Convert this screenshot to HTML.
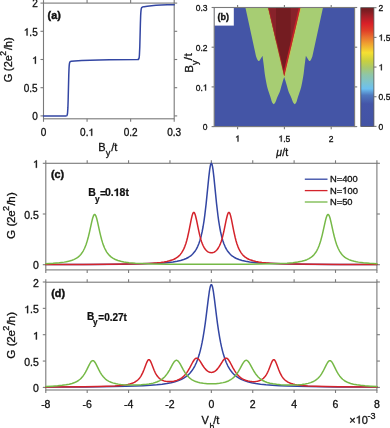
<!DOCTYPE html>
<html><head><meta charset="utf-8"><style>
html,body{margin:0;padding:0;background:#fff;}
body{width:390px;height:428px;overflow:hidden;}
text{stroke:#111;stroke-width:0.3px;} text[font-weight=bold]{stroke-width:0.22px;}
svg{display:block;will-change:transform;font-family:"Liberation Sans", sans-serif;}
</style></head><body>
<svg width="390" height="428" viewBox="0 0 390 428">
<rect width="390" height="428" fill="#fff"/>
<rect x="43.5" y="3.1" width="130.7" height="115.7" fill="none" stroke="#7a7a7a" stroke-width="1.1"/>
<line x1="43.5" y1="118.8" x2="43.5" y2="121.8" stroke="#7a7a7a" stroke-width="1.1"/>
<line x1="43.5" y1="3.1" x2="43.5" y2="0.1" stroke="#7a7a7a" stroke-width="1.1"/>
<line x1="87.07" y1="118.8" x2="87.07" y2="121.8" stroke="#7a7a7a" stroke-width="1.1"/>
<line x1="87.07" y1="3.1" x2="87.07" y2="0.1" stroke="#7a7a7a" stroke-width="1.1"/>
<line x1="130.63" y1="118.8" x2="130.63" y2="121.8" stroke="#7a7a7a" stroke-width="1.1"/>
<line x1="130.63" y1="3.1" x2="130.63" y2="0.1" stroke="#7a7a7a" stroke-width="1.1"/>
<line x1="174.2" y1="118.8" x2="174.2" y2="121.8" stroke="#7a7a7a" stroke-width="1.1"/>
<line x1="174.2" y1="3.1" x2="174.2" y2="0.1" stroke="#7a7a7a" stroke-width="1.1"/>
<line x1="43.5" y1="115.9" x2="40.5" y2="115.9" stroke="#7a7a7a" stroke-width="1.1"/>
<line x1="174.2" y1="115.9" x2="177.2" y2="115.9" stroke="#7a7a7a" stroke-width="1.1"/>
<line x1="43.5" y1="87.7" x2="40.5" y2="87.7" stroke="#7a7a7a" stroke-width="1.1"/>
<line x1="174.2" y1="87.7" x2="177.2" y2="87.7" stroke="#7a7a7a" stroke-width="1.1"/>
<line x1="43.5" y1="59.5" x2="40.5" y2="59.5" stroke="#7a7a7a" stroke-width="1.1"/>
<line x1="174.2" y1="59.5" x2="177.2" y2="59.5" stroke="#7a7a7a" stroke-width="1.1"/>
<line x1="43.5" y1="31.3" x2="40.5" y2="31.3" stroke="#7a7a7a" stroke-width="1.1"/>
<line x1="174.2" y1="31.3" x2="177.2" y2="31.3" stroke="#7a7a7a" stroke-width="1.1"/>
<line x1="43.5" y1="3.1" x2="40.5" y2="3.1" stroke="#7a7a7a" stroke-width="1.1"/>
<line x1="174.2" y1="3.1" x2="177.2" y2="3.1" stroke="#7a7a7a" stroke-width="1.1"/>
<text x="37.7" y="120.1" font-size="10" text-anchor="end" font-weight="normal" font-style="normal" fill="#111111">0</text>
<text x="37.7" y="91.9" font-size="10" text-anchor="end" font-weight="normal" font-style="normal" fill="#111111">0.5</text>
<path d="M0.375 0L0.375 0.716L0.300 0.716C0.280 0.650 0.200 0.590 0.105 0.560L0.105 0.480C0.190 0.505 0.245 0.540 0.275 0.575L0.275 0Z" transform="translate(32.14 63.7) scale(10 -10)" fill="#111111" stroke="#111111" stroke-width="0.0300"/>
<path d="M0.375 0L0.375 0.716L0.300 0.716C0.280 0.650 0.200 0.590 0.105 0.560L0.105 0.480C0.190 0.505 0.245 0.540 0.275 0.575L0.275 0Z" transform="translate(23.8 35.5) scale(10 -10)" fill="#111111" stroke="#111111" stroke-width="0.0300"/>
<text x="29.36" y="35.5" font-size="10" font-weight="normal" fill="#111111">.</text>
<text x="32.14" y="35.5" font-size="10" font-weight="normal" fill="#111111">5</text>
<text x="37.7" y="7.3" font-size="10" text-anchor="end" font-weight="normal" font-style="normal" fill="#111111">2</text>
<text x="43.5" y="135.8" font-size="10" text-anchor="middle" font-weight="normal" font-style="normal" fill="#111111">0</text>
<text x="80.12" y="135.8" font-size="10" font-weight="normal" fill="#111111">0</text>
<text x="85.68" y="135.8" font-size="10" font-weight="normal" fill="#111111">.</text>
<path d="M0.375 0L0.375 0.716L0.300 0.716C0.280 0.650 0.200 0.590 0.105 0.560L0.105 0.480C0.190 0.505 0.245 0.540 0.275 0.575L0.275 0Z" transform="translate(88.46 135.8) scale(10 -10)" fill="#111111" stroke="#111111" stroke-width="0.0300"/>
<text x="130.63" y="135.8" font-size="10" text-anchor="middle" font-weight="normal" font-style="normal" fill="#111111">0.2</text>
<text x="174.2" y="135.8" font-size="10" text-anchor="middle" font-weight="normal" font-style="normal" fill="#111111">0.3</text>
<path d="M43.50 115.90 L65.72 115.89 L66.24 115.86 L66.59 115.77 L66.85 115.58 L67.03 115.34 L67.29 114.61 L67.55 112.96 L67.90 107.66 L68.16 99.84 L68.77 75.00 L69.03 68.29 L69.20 65.62 L69.47 63.39 L69.73 62.35 L69.90 61.98 L70.16 61.68 L70.60 61.46 L71.30 61.31 L74.61 60.99 L81.75 60.57 L90.20 60.23 L99.18 59.98 L109.55 59.80 L137.26 59.58 L137.95 59.54 L138.39 59.41 L138.74 59.04 L139.00 58.34 L139.26 56.76 L139.43 54.80 L139.78 47.13 L140.39 23.50 L140.65 15.85 L140.83 12.62 L141.09 9.82 L141.35 8.46 L141.70 7.65 L142.05 7.30 L142.48 7.08 L144.14 6.64 L147.28 6.15 L151.55 5.69 L156.08 5.34 L161.30 5.07 L167.23 4.86 L174.20 4.72" fill="none" stroke="#3346a3" stroke-width="1.5" stroke-linejoin="round" stroke-linecap="round"/>
<text x="47.6" y="18.8" font-size="10.8" text-anchor="start" font-weight="bold" font-style="normal" fill="#111111" style="stroke-width:0.4px">(a)</text>
<text x="98.3" y="151" font-size="11" text-anchor="start" font-weight="normal" font-style="normal" fill="#111111">B</text>
<text x="105.7" y="156.4" font-size="9.4" text-anchor="start" font-weight="normal" font-style="normal" fill="#111111">y</text>
<text x="111.3" y="150.8" font-size="11" text-anchor="start" font-weight="normal" font-style="normal" fill="#111111">/t</text>
<text transform="translate(11.6 82.14) rotate(-90)" font-size="11" fill="#111111">G</text>
<text transform="translate(11.6 71.29) rotate(-90)" font-size="11" fill="#111111">(</text>
<text transform="translate(11.6 67.26) rotate(-90)" font-size="11" fill="#111111">2</text>
<text transform="translate(11.6 61.35) rotate(-90)" font-size="11" fill="#111111">e</text>
<text transform="translate(6.4 55.74) rotate(-90)" font-size="8.6" fill="#111111">2</text>
<text transform="translate(11.6 49.98) rotate(-90)" font-size="11" fill="#111111">/</text>
<text transform="translate(11.6 47.33) rotate(-90)" font-size="11" fill="#111111">h</text>
<text transform="translate(11.6 40.97) rotate(-90)" font-size="11" fill="#111111">)</text>
<rect x="214.2" y="7.5" width="140.4" height="119.1" fill="#4455a6"/>
<path d="M245.4 7.5 L256.0 56.3 C256.22 56.85 256.88 58.80 257.30 59.60 C257.72 60.40 258.08 61.00 258.50 61.10 C258.92 61.20 259.33 60.75 259.80 60.20 C260.27 59.65 260.85 58.55 261.30 57.80 C261.75 57.05 262.30 56.05 262.50 55.70 C262.65 56.83 263.13 60.45 263.40 62.50 C263.67 64.55 263.87 66.08 264.10 68.00 C264.33 69.92 264.50 71.92 264.80 74.00 C265.10 76.08 265.50 78.33 265.90 80.50 C266.30 82.67 266.67 84.90 267.20 87.00 C267.73 89.10 268.50 91.22 269.10 93.10 C269.70 94.98 270.38 96.98 270.80 98.30 C271.22 99.62 271.32 100.20 271.60 101.00 C271.88 101.80 272.15 102.57 272.50 103.10 C272.85 103.63 273.30 104.20 273.70 104.20 C274.10 104.20 274.53 103.63 274.90 103.10 C275.27 102.57 275.57 101.80 275.90 101.00 C276.23 100.20 276.52 99.25 276.90 98.30 C277.28 97.35 277.75 96.30 278.20 95.30 C278.65 94.30 279.15 93.52 279.60 92.30 C280.05 91.08 280.53 89.25 280.90 88.00 C281.27 86.75 281.47 85.97 281.80 84.80 C282.13 83.63 282.50 82.30 282.90 81.00 C283.30 79.70 283.98 77.67 284.20 77.00 C284.42 77.67 285.10 79.70 285.50 81.00 C285.90 82.30 286.27 83.63 286.60 84.80 C286.93 85.97 287.13 86.75 287.50 88.00 C287.87 89.25 288.35 91.08 288.80 92.30 C289.25 93.52 289.75 94.30 290.20 95.30 C290.65 96.30 291.12 97.35 291.50 98.30 C291.88 99.25 292.17 100.20 292.50 101.00 C292.83 101.80 293.13 102.57 293.50 103.10 C293.87 103.63 294.30 104.20 294.70 104.20 C295.10 104.20 295.55 103.63 295.90 103.10 C296.25 102.57 296.52 101.80 296.80 101.00 C297.08 100.20 297.18 99.62 297.60 98.30 C298.02 96.98 298.70 94.98 299.30 93.10 C299.90 91.22 300.67 89.10 301.20 87.00 C301.73 84.90 302.10 82.67 302.50 80.50 C302.90 78.33 303.30 76.08 303.60 74.00 C303.90 71.92 304.07 69.92 304.30 68.00 C304.53 66.08 304.73 64.55 305.00 62.50 C305.27 60.45 305.75 56.83 305.90 55.70 C306.10 56.05 306.65 57.05 307.10 57.80 C307.55 58.55 308.13 59.65 308.60 60.20 C309.07 60.75 309.48 61.20 309.90 61.10 C310.32 61.00 310.68 60.40 311.10 59.60 C311.52 58.80 312.18 56.85 312.40 56.30 L323.00 7.5 Z" fill="#a7cd73"/>
<clipPath id="rw"><path d="M268.1 7.5 L300.4 7.5 L284.25 76.3 Z"/></clipPath>
<g clip-path="url(#rw)">
<rect x="260" y="0" width="50" height="130" fill="#741c21"/>
<rect x="260" y="0" width="16" height="130" fill="#88222a"/>
<rect x="290.6" y="0" width="20" height="130" fill="#88222a"/>
<path d="M300.4 7.5 L284.25 76.3" stroke="#c82228" stroke-width="3.2" fill="none"/>
<path d="M268.1 7.5 L284.25 76.3" stroke="#a82228" stroke-width="1.6" fill="none"/>
</g>
<path d="M300.4 7.5 L284.25 76.3" stroke="#d8c040" stroke-width="0.7" stroke-opacity="0.8" fill="none" transform="translate(0.55 0)"/>
<path d="M268.1 7.5 L284.25 76.3" stroke="#c8b840" stroke-width="0.6" stroke-opacity="0.6" fill="none" transform="translate(-0.45 0)"/>
<rect x="214.2" y="7.5" width="19.6" height="18.1" fill="#ffffff"/>
<text x="217.6" y="20.3" font-size="9" text-anchor="start" font-weight="bold" font-style="normal" fill="#111111" style="stroke-width:0.35px">(b)</text>
<rect x="214.2" y="7.5" width="140.4" height="119.1" fill="none" stroke="#7a7a7a" stroke-width="1.1"/>
<line x1="237.6" y1="126.6" x2="237.6" y2="129.2" stroke="#7a7a7a" stroke-width="1.1"/>
<line x1="237.6" y1="7.5" x2="237.6" y2="4.9" stroke="#7a7a7a" stroke-width="1.1"/>
<line x1="284.4" y1="126.6" x2="284.4" y2="129.2" stroke="#7a7a7a" stroke-width="1.1"/>
<line x1="284.4" y1="7.5" x2="284.4" y2="4.9" stroke="#7a7a7a" stroke-width="1.1"/>
<line x1="331.2" y1="126.6" x2="331.2" y2="129.2" stroke="#7a7a7a" stroke-width="1.1"/>
<line x1="331.2" y1="7.5" x2="331.2" y2="4.9" stroke="#7a7a7a" stroke-width="1.1"/>
<line x1="214.2" y1="126.6" x2="211.6" y2="126.6" stroke="#7a7a7a" stroke-width="1.1"/>
<line x1="354.6" y1="126.6" x2="357.2" y2="126.6" stroke="#7a7a7a" stroke-width="1.1"/>
<line x1="214.2" y1="86.9" x2="211.6" y2="86.9" stroke="#7a7a7a" stroke-width="1.1"/>
<line x1="354.6" y1="86.9" x2="357.2" y2="86.9" stroke="#7a7a7a" stroke-width="1.1"/>
<line x1="214.2" y1="47.2" x2="211.6" y2="47.2" stroke="#7a7a7a" stroke-width="1.1"/>
<line x1="354.6" y1="47.2" x2="357.2" y2="47.2" stroke="#7a7a7a" stroke-width="1.1"/>
<line x1="214.2" y1="7.5" x2="211.6" y2="7.5" stroke="#7a7a7a" stroke-width="1.1"/>
<line x1="354.6" y1="7.5" x2="357.2" y2="7.5" stroke="#7a7a7a" stroke-width="1.1"/>
<text x="207.6" y="130.2" font-size="8.5" text-anchor="end" font-weight="normal" font-style="normal" fill="#111111">0</text>
<text x="195.78" y="90.5" font-size="8.5" font-weight="normal" fill="#111111">0</text>
<text x="200.51" y="90.5" font-size="8.5" font-weight="normal" fill="#111111">.</text>
<path d="M0.375 0L0.375 0.716L0.300 0.716C0.280 0.650 0.200 0.590 0.105 0.560L0.105 0.480C0.190 0.505 0.245 0.540 0.275 0.575L0.275 0Z" transform="translate(202.87 90.5) scale(8.5 -8.5)" fill="#111111" stroke="#111111" stroke-width="0.0353"/>
<text x="207.6" y="50.8" font-size="8.5" text-anchor="end" font-weight="normal" font-style="normal" fill="#111111">0.2</text>
<text x="207.6" y="11.1" font-size="8.5" text-anchor="end" font-weight="normal" font-style="normal" fill="#111111">0.3</text>
<path d="M0.375 0L0.375 0.716L0.300 0.716C0.280 0.650 0.200 0.590 0.105 0.560L0.105 0.480C0.190 0.505 0.245 0.540 0.275 0.575L0.275 0Z" transform="translate(235.24 141.6) scale(8.5 -8.5)" fill="#111111" stroke="#111111" stroke-width="0.0353"/>
<path d="M0.375 0L0.375 0.716L0.300 0.716C0.280 0.650 0.200 0.590 0.105 0.560L0.105 0.480C0.190 0.505 0.245 0.540 0.275 0.575L0.275 0Z" transform="translate(278.49 141.6) scale(8.5 -8.5)" fill="#111111" stroke="#111111" stroke-width="0.0353"/>
<text x="283.22" y="141.6" font-size="8.5" font-weight="normal" fill="#111111">.</text>
<text x="285.58" y="141.6" font-size="8.5" font-weight="normal" fill="#111111">5</text>
<text x="331.2" y="141.6" font-size="8.5" text-anchor="middle" font-weight="normal" font-style="normal" fill="#111111">2</text>
<text x="276.3" y="156.2" font-size="10.5" text-anchor="start" font-weight="normal" font-style="italic" fill="#111111">μ</text>
<text x="282.3" y="156" font-size="10.5" text-anchor="start" font-weight="normal" font-style="normal" fill="#111111">/t</text>
<text transform="translate(192.6 72.7) rotate(-90)" font-size="11.6" fill="#111111">B</text>
<text transform="translate(198.1 65.1) rotate(-90)" font-size="9" fill="#111111">y</text>
<text transform="translate(192.4 60.2) rotate(-90)" font-size="11.6" fill="#111111">/</text>
<text transform="translate(192.4 56.5) rotate(-90)" font-size="11.6" fill="#111111">t</text>
<linearGradient id="cb" x1="0" y1="1" x2="0" y2="0"><stop offset="0.0" stop-color="#4353a4"/><stop offset="0.19" stop-color="#4455a8"/><stop offset="0.262" stop-color="#4f78be"/><stop offset="0.317" stop-color="#6cc0f0"/><stop offset="0.38" stop-color="#80c4c8"/><stop offset="0.433" stop-color="#8ec6a8"/><stop offset="0.492" stop-color="#a8c870"/><stop offset="0.551" stop-color="#c8d040"/><stop offset="0.621" stop-color="#f5e032"/><stop offset="0.66" stop-color="#f2bf32"/><stop offset="0.698" stop-color="#f0a030"/><stop offset="0.753" stop-color="#e87030"/><stop offset="0.806" stop-color="#e04028"/><stop offset="0.867" stop-color="#d82028"/><stop offset="0.925" stop-color="#a82028"/><stop offset="0.975" stop-color="#7c1e22"/><stop offset="1.0" stop-color="#761c20"/></linearGradient>
<rect x="360.8" y="7.7" width="13.1" height="118.7" fill="url(#cb)" stroke="#505050" stroke-width="0.8"/>
<line x1="373.9" y1="126.4" x2="376.5" y2="126.4" stroke="#7a7a7a" stroke-width="1.1"/>
<text x="378.6" y="129.6" font-size="8.5" text-anchor="start" font-weight="normal" font-style="normal" fill="#111111">0</text>
<line x1="373.9" y1="96.73" x2="376.5" y2="96.73" stroke="#7a7a7a" stroke-width="1.1"/>
<text x="378.6" y="99.93" font-size="8.5" text-anchor="start" font-weight="normal" font-style="normal" fill="#111111">0.5</text>
<line x1="373.9" y1="67.05" x2="376.5" y2="67.05" stroke="#7a7a7a" stroke-width="1.1"/>
<path d="M0.375 0L0.375 0.716L0.300 0.716C0.280 0.650 0.200 0.590 0.105 0.560L0.105 0.480C0.190 0.505 0.245 0.540 0.275 0.575L0.275 0Z" transform="translate(378.6 70.25) scale(8.5 -8.5)" fill="#111111" stroke="#111111" stroke-width="0.0353"/>
<line x1="373.9" y1="37.38" x2="376.5" y2="37.38" stroke="#7a7a7a" stroke-width="1.1"/>
<path d="M0.375 0L0.375 0.716L0.300 0.716C0.280 0.650 0.200 0.590 0.105 0.560L0.105 0.480C0.190 0.505 0.245 0.540 0.275 0.575L0.275 0Z" transform="translate(378.6 40.58) scale(8.5 -8.5)" fill="#111111" stroke="#111111" stroke-width="0.0353"/>
<text x="383.33" y="40.58" font-size="8.5" font-weight="normal" fill="#111111">.</text>
<text x="385.69" y="40.58" font-size="8.5" font-weight="normal" fill="#111111">5</text>
<line x1="373.9" y1="7.7" x2="376.5" y2="7.7" stroke="#7a7a7a" stroke-width="1.1"/>
<text x="378.6" y="10.9" font-size="8.5" text-anchor="start" font-weight="normal" font-style="normal" fill="#111111">2</text>
<rect x="45.8" y="163.3" width="331.1" height="106.6" fill="none" stroke="#7a7a7a" stroke-width="1.1"/>
<line x1="45.8" y1="269.9" x2="45.8" y2="272.9" stroke="#7a7a7a" stroke-width="1.1"/>
<line x1="45.8" y1="163.3" x2="45.8" y2="160.3" stroke="#7a7a7a" stroke-width="1.1"/>
<line x1="87.19" y1="269.9" x2="87.19" y2="272.9" stroke="#7a7a7a" stroke-width="1.1"/>
<line x1="87.19" y1="163.3" x2="87.19" y2="160.3" stroke="#7a7a7a" stroke-width="1.1"/>
<line x1="128.57" y1="269.9" x2="128.57" y2="272.9" stroke="#7a7a7a" stroke-width="1.1"/>
<line x1="128.57" y1="163.3" x2="128.57" y2="160.3" stroke="#7a7a7a" stroke-width="1.1"/>
<line x1="169.96" y1="269.9" x2="169.96" y2="272.9" stroke="#7a7a7a" stroke-width="1.1"/>
<line x1="169.96" y1="163.3" x2="169.96" y2="160.3" stroke="#7a7a7a" stroke-width="1.1"/>
<line x1="211.35" y1="269.9" x2="211.35" y2="272.9" stroke="#7a7a7a" stroke-width="1.1"/>
<line x1="211.35" y1="163.3" x2="211.35" y2="160.3" stroke="#7a7a7a" stroke-width="1.1"/>
<line x1="252.74" y1="269.9" x2="252.74" y2="272.9" stroke="#7a7a7a" stroke-width="1.1"/>
<line x1="252.74" y1="163.3" x2="252.74" y2="160.3" stroke="#7a7a7a" stroke-width="1.1"/>
<line x1="294.12" y1="269.9" x2="294.12" y2="272.9" stroke="#7a7a7a" stroke-width="1.1"/>
<line x1="294.12" y1="163.3" x2="294.12" y2="160.3" stroke="#7a7a7a" stroke-width="1.1"/>
<line x1="335.51" y1="269.9" x2="335.51" y2="272.9" stroke="#7a7a7a" stroke-width="1.1"/>
<line x1="335.51" y1="163.3" x2="335.51" y2="160.3" stroke="#7a7a7a" stroke-width="1.1"/>
<line x1="376.9" y1="269.9" x2="376.9" y2="272.9" stroke="#7a7a7a" stroke-width="1.1"/>
<line x1="376.9" y1="163.3" x2="376.9" y2="160.3" stroke="#7a7a7a" stroke-width="1.1"/>
<line x1="45.8" y1="264.7" x2="42.8" y2="264.7" stroke="#7a7a7a" stroke-width="1.1"/>
<line x1="376.9" y1="264.7" x2="379.9" y2="264.7" stroke="#7a7a7a" stroke-width="1.1"/>
<line x1="45.8" y1="214" x2="42.8" y2="214" stroke="#7a7a7a" stroke-width="1.1"/>
<line x1="376.9" y1="214" x2="379.9" y2="214" stroke="#7a7a7a" stroke-width="1.1"/>
<line x1="45.8" y1="163.3" x2="42.8" y2="163.3" stroke="#7a7a7a" stroke-width="1.1"/>
<line x1="376.9" y1="163.3" x2="379.9" y2="163.3" stroke="#7a7a7a" stroke-width="1.1"/>
<text x="38.8" y="269.2" font-size="10.5" text-anchor="end" font-weight="normal" font-style="normal" fill="#111111">0</text>
<text x="38.8" y="218.5" font-size="10.5" text-anchor="end" font-weight="normal" font-style="normal" fill="#111111">0.5</text>
<path d="M0.375 0L0.375 0.716L0.300 0.716C0.280 0.650 0.200 0.590 0.105 0.560L0.105 0.480C0.190 0.505 0.245 0.540 0.275 0.575L0.275 0Z" transform="translate(32.96 167.8) scale(10.5 -10.5)" fill="#111111" stroke="#111111" stroke-width="0.0286"/>
<path d="M45.80 264.55 L90.97 264.41 L121.24 264.19 L142.29 263.84 L150.57 263.59 L157.43 263.29 L163.34 262.93 L168.54 262.48 L173.04 261.95 L177.06 261.29 L180.60 260.49 L183.68 259.55 L186.28 258.49 L188.65 257.23 L189.83 256.46 L191.01 255.56 L191.96 254.74 L192.90 253.80 L194.56 251.83 L195.50 250.47 L196.21 249.32 L197.63 246.57 L198.82 243.73 L200.00 240.24 L201.18 235.93 L202.13 231.74 L203.07 226.75 L204.02 220.84 L204.73 215.72 L206.15 203.64 L208.75 177.67 L209.69 169.66 L210.17 166.65 L210.64 164.53 L210.88 163.85 L211.11 163.44 L211.35 163.30 L211.59 163.44 L211.82 163.85 L212.06 164.53 L212.53 166.65 L213.01 169.66 L213.95 177.67 L216.55 203.64 L217.97 215.72 L218.68 220.84 L219.63 226.75 L220.57 231.74 L221.52 235.93 L222.70 240.24 L223.88 243.73 L225.07 246.57 L226.49 249.32 L227.20 250.47 L228.14 251.83 L229.80 253.80 L230.74 254.74 L231.69 255.56 L232.87 256.46 L234.05 257.23 L236.42 258.49 L239.02 259.55 L242.09 260.49 L245.64 261.29 L249.66 261.95 L254.16 262.48 L259.36 262.93 L265.27 263.29 L272.13 263.59 L280.41 263.84 L301.46 264.19 L331.73 264.41 L376.90 264.55" fill="none" stroke="#3346a3" stroke-width="1.5" stroke-linejoin="round" stroke-linecap="round"/>
<path d="M45.80 264.54 L82.93 264.43 L109.18 264.27 L128.10 264.02 L142.06 263.66 L147.73 263.42 L152.70 263.14 L156.95 262.81 L160.74 262.42 L164.05 261.96 L166.89 261.44 L169.49 260.82 L171.85 260.08 L173.98 259.21 L175.88 258.22 L177.53 257.10 L178.95 255.90 L180.37 254.41 L181.55 252.86 L182.73 250.97 L183.92 248.63 L184.86 246.36 L185.81 243.67 L186.75 240.49 L187.46 237.75 L188.88 231.36 L191.25 219.35 L192.19 215.37 L192.67 213.91 L193.14 212.90 L193.38 212.59 L193.61 212.42 L193.85 212.38 L194.09 212.48 L194.32 212.71 L194.56 213.08 L195.03 214.18 L195.50 215.71 L196.45 219.72 L198.58 230.18 L199.76 235.39 L200.94 239.74 L201.65 241.94 L202.36 243.85 L203.07 245.51 L204.02 247.35 L204.73 248.51 L205.67 249.77 L206.62 250.78 L207.57 251.56 L208.51 252.13 L209.69 252.60 L210.88 252.82 L211.59 252.84 L212.30 252.76 L213.01 252.60 L213.71 252.35 L214.90 251.72 L216.08 250.78 L217.26 249.48 L218.44 247.76 L219.39 246.00 L220.34 243.85 L221.05 241.94 L221.99 238.94 L222.70 236.33 L223.88 231.28 L226.25 219.72 L227.20 215.71 L227.67 214.18 L228.14 213.08 L228.38 212.71 L228.61 212.48 L228.85 212.38 L229.09 212.42 L229.32 212.59 L229.56 212.90 L230.03 213.91 L230.51 215.37 L231.45 219.35 L233.82 231.36 L235.24 237.75 L235.95 240.49 L236.89 243.67 L237.84 246.36 L238.78 248.63 L239.97 250.97 L241.15 252.86 L242.33 254.41 L243.75 255.90 L245.17 257.10 L246.82 258.22 L248.72 259.21 L250.85 260.08 L253.21 260.82 L255.81 261.44 L258.65 261.96 L261.96 262.42 L265.75 262.81 L270.00 263.14 L274.97 263.42 L280.64 263.66 L294.60 264.02 L313.52 264.27 L339.77 264.43 L376.90 264.54" fill="none" stroke="#d4232b" stroke-width="1.5" stroke-linejoin="round" stroke-linecap="round"/>
<path d="M45.80 263.66 L53.13 263.28 L59.28 262.77 L64.25 262.13 L66.38 261.76 L68.50 261.30 L70.40 260.80 L72.05 260.26 L73.71 259.61 L75.13 258.94 L76.55 258.12 L77.73 257.32 L78.91 256.36 L79.86 255.46 L80.80 254.43 L81.51 253.54 L82.46 252.19 L83.17 251.03 L84.59 248.26 L86.01 244.74 L87.19 241.12 L88.37 236.79 L89.55 231.80 L91.68 222.06 L92.63 218.29 L93.34 216.14 L93.81 215.15 L94.28 214.59 L94.52 214.48 L94.76 214.48 L94.99 214.59 L95.23 214.82 L95.70 215.60 L96.17 216.77 L96.65 218.28 L97.59 222.06 L99.72 231.79 L100.67 235.84 L101.61 239.47 L102.56 242.64 L103.51 245.38 L104.45 247.72 L105.40 249.72 L106.58 251.81 L108.00 253.84 L109.66 255.69 L111.31 257.12 L113.20 258.40 L115.33 259.49 L117.93 260.49 L120.77 261.28 L123.84 261.91 L126.21 262.29 L129.05 262.64 L135.43 263.20 L143.47 263.62 L153.41 263.92 L166.89 264.14 L184.15 264.28 L206.62 264.34 L230.27 264.31 L247.06 264.22 L260.54 264.08 L271.18 263.87 L279.94 263.59 L287.03 263.21 L292.94 262.72 L297.67 262.11 L301.69 261.34 L304.53 260.56 L306.90 259.70 L309.02 258.67 L310.92 257.47 L312.57 256.13 L314.23 254.42 L315.65 252.54 L316.83 250.61 L318.01 248.25 L318.96 246.00 L319.90 243.37 L320.85 240.30 L322.27 234.86 L325.11 222.06 L325.82 219.15 L326.29 217.49 L326.76 216.14 L327.23 215.15 L327.71 214.59 L327.94 214.48 L328.18 214.48 L328.42 214.59 L328.65 214.82 L329.13 215.60 L329.60 216.77 L330.07 218.29 L331.02 222.06 L333.15 231.80 L334.33 236.79 L335.51 241.12 L336.69 244.74 L338.11 248.26 L339.53 251.03 L340.24 252.19 L341.19 253.54 L341.90 254.43 L342.84 255.46 L343.79 256.36 L344.97 257.32 L346.15 258.12 L347.57 258.94 L348.99 259.61 L350.65 260.26 L352.30 260.80 L354.20 261.30 L356.32 261.76 L358.45 262.13 L363.42 262.77 L369.57 263.28 L376.90 263.66" fill="none" stroke="#76b947" stroke-width="1.5" stroke-linejoin="round" stroke-linecap="round"/>
<text x="51" y="178.4" font-size="10.8" text-anchor="start" font-weight="bold" font-style="normal" fill="#111111" style="stroke-width:0.4px">(c)</text>
<text x="88.3" y="196.1" font-size="10.5" text-anchor="start" font-weight="bold" font-style="normal" fill="#111111">B</text>
<text x="95.1" y="201.6" font-size="8.4" text-anchor="start" font-weight="bold" font-style="normal" fill="#111111">y</text>
<text x="100.1" y="197" font-size="10.5" text-anchor="start" font-weight="bold" font-style="normal" fill="#111111">=</text>
<text x="105" y="196.1" font-size="10.5" font-weight="bold" fill="#111111">0</text>
<text x="110.84" y="196.1" font-size="10.5" font-weight="bold" fill="#111111">.</text>
<path d="M0.405 0L0.405 0.716L0.285 0.716C0.265 0.640 0.170 0.585 0.065 0.575L0.065 0.470C0.150 0.475 0.220 0.500 0.255 0.530L0.255 0Z" transform="translate(113.76 196.1) scale(10.5 -10.5)" fill="#111111" stroke="#111111" stroke-width="0.0210"/>
<text x="119.6" y="196.1" font-size="10.5" font-weight="bold" fill="#111111">8</text>
<text x="125.44" y="196.1" font-size="10.5" font-weight="bold" fill="#111111">t</text>
<line x1="304.8" y1="179.2" x2="327.5" y2="179.2" stroke="#3346a3" stroke-width="1.3"/>
<text x="329.9" y="182.4" font-size="9.4" text-anchor="start" font-weight="normal" font-style="normal" fill="#111111">N=400</text>
<line x1="304.8" y1="190.6" x2="327.5" y2="190.6" stroke="#d4232b" stroke-width="1.3"/>
<text x="329.9" y="193.8" font-size="9.4" font-weight="normal" fill="#111111">N</text>
<text x="336.69" y="193.8" font-size="9.4" font-weight="normal" fill="#111111">=</text>
<path d="M0.375 0L0.375 0.716L0.300 0.716C0.280 0.650 0.200 0.590 0.105 0.560L0.105 0.480C0.190 0.505 0.245 0.540 0.275 0.575L0.275 0Z" transform="translate(342.18 193.8) scale(9.4 -9.4)" fill="#111111" stroke="#111111" stroke-width="0.0319"/>
<text x="347.41" y="193.8" font-size="9.4" font-weight="normal" fill="#111111">0</text>
<text x="352.63" y="193.8" font-size="9.4" font-weight="normal" fill="#111111">0</text>
<line x1="304.8" y1="202" x2="327.5" y2="202" stroke="#76b947" stroke-width="1.3"/>
<text x="329.9" y="205.2" font-size="9.4" text-anchor="start" font-weight="normal" font-style="normal" fill="#111111">N=50</text>
<text transform="translate(15 238.97) rotate(-90)" font-size="11.6" fill="#111111">G</text>
<text transform="translate(15 226.56) rotate(-90)" font-size="11.6" fill="#111111">(</text>
<text transform="translate(15 222.97) rotate(-90)" font-size="11.6" fill="#111111">2</text>
<text transform="translate(15 216.71) rotate(-90)" font-size="11.6" fill="#111111">e</text>
<text transform="translate(9.3 210.95) rotate(-90)" font-size="9" fill="#111111">2</text>
<text transform="translate(15 205.51) rotate(-90)" font-size="11.6" fill="#111111">/</text>
<text transform="translate(15 202.65) rotate(-90)" font-size="11.6" fill="#111111">h</text>
<text transform="translate(15 196.06) rotate(-90)" font-size="11.6" fill="#111111">)</text>
<rect x="45.8" y="282.2" width="331.1" height="107.8" fill="none" stroke="#7a7a7a" stroke-width="1.1"/>
<line x1="45.8" y1="390" x2="45.8" y2="393" stroke="#7a7a7a" stroke-width="1.1"/>
<line x1="45.8" y1="282.2" x2="45.8" y2="279.2" stroke="#7a7a7a" stroke-width="1.1"/>
<line x1="87.19" y1="390" x2="87.19" y2="393" stroke="#7a7a7a" stroke-width="1.1"/>
<line x1="87.19" y1="282.2" x2="87.19" y2="279.2" stroke="#7a7a7a" stroke-width="1.1"/>
<line x1="128.57" y1="390" x2="128.57" y2="393" stroke="#7a7a7a" stroke-width="1.1"/>
<line x1="128.57" y1="282.2" x2="128.57" y2="279.2" stroke="#7a7a7a" stroke-width="1.1"/>
<line x1="169.96" y1="390" x2="169.96" y2="393" stroke="#7a7a7a" stroke-width="1.1"/>
<line x1="169.96" y1="282.2" x2="169.96" y2="279.2" stroke="#7a7a7a" stroke-width="1.1"/>
<line x1="211.35" y1="390" x2="211.35" y2="393" stroke="#7a7a7a" stroke-width="1.1"/>
<line x1="211.35" y1="282.2" x2="211.35" y2="279.2" stroke="#7a7a7a" stroke-width="1.1"/>
<line x1="252.74" y1="390" x2="252.74" y2="393" stroke="#7a7a7a" stroke-width="1.1"/>
<line x1="252.74" y1="282.2" x2="252.74" y2="279.2" stroke="#7a7a7a" stroke-width="1.1"/>
<line x1="294.12" y1="390" x2="294.12" y2="393" stroke="#7a7a7a" stroke-width="1.1"/>
<line x1="294.12" y1="282.2" x2="294.12" y2="279.2" stroke="#7a7a7a" stroke-width="1.1"/>
<line x1="335.51" y1="390" x2="335.51" y2="393" stroke="#7a7a7a" stroke-width="1.1"/>
<line x1="335.51" y1="282.2" x2="335.51" y2="279.2" stroke="#7a7a7a" stroke-width="1.1"/>
<line x1="376.9" y1="390" x2="376.9" y2="393" stroke="#7a7a7a" stroke-width="1.1"/>
<line x1="376.9" y1="282.2" x2="376.9" y2="279.2" stroke="#7a7a7a" stroke-width="1.1"/>
<line x1="45.8" y1="387.4" x2="42.8" y2="387.4" stroke="#7a7a7a" stroke-width="1.1"/>
<line x1="376.9" y1="387.4" x2="379.9" y2="387.4" stroke="#7a7a7a" stroke-width="1.1"/>
<line x1="45.8" y1="361.05" x2="42.8" y2="361.05" stroke="#7a7a7a" stroke-width="1.1"/>
<line x1="376.9" y1="361.05" x2="379.9" y2="361.05" stroke="#7a7a7a" stroke-width="1.1"/>
<line x1="45.8" y1="334.7" x2="42.8" y2="334.7" stroke="#7a7a7a" stroke-width="1.1"/>
<line x1="376.9" y1="334.7" x2="379.9" y2="334.7" stroke="#7a7a7a" stroke-width="1.1"/>
<line x1="45.8" y1="308.35" x2="42.8" y2="308.35" stroke="#7a7a7a" stroke-width="1.1"/>
<line x1="376.9" y1="308.35" x2="379.9" y2="308.35" stroke="#7a7a7a" stroke-width="1.1"/>
<line x1="45.8" y1="282" x2="42.8" y2="282" stroke="#7a7a7a" stroke-width="1.1"/>
<line x1="376.9" y1="282" x2="379.9" y2="282" stroke="#7a7a7a" stroke-width="1.1"/>
<text x="38.8" y="392.2" font-size="10.5" text-anchor="end" font-weight="normal" font-style="normal" fill="#111111">0</text>
<text x="38.8" y="365.85" font-size="10.5" text-anchor="end" font-weight="normal" font-style="normal" fill="#111111">0.5</text>
<path d="M0.375 0L0.375 0.716L0.300 0.716C0.280 0.650 0.200 0.590 0.105 0.560L0.105 0.480C0.190 0.505 0.245 0.540 0.275 0.575L0.275 0Z" transform="translate(32.96 339.5) scale(10.5 -10.5)" fill="#111111" stroke="#111111" stroke-width="0.0286"/>
<path d="M0.375 0L0.375 0.716L0.300 0.716C0.280 0.650 0.200 0.590 0.105 0.560L0.105 0.480C0.190 0.505 0.245 0.540 0.275 0.575L0.275 0Z" transform="translate(24.2 313.15) scale(10.5 -10.5)" fill="#111111" stroke="#111111" stroke-width="0.0286"/>
<text x="30.04" y="313.15" font-size="10.5" font-weight="normal" fill="#111111">.</text>
<text x="32.96" y="313.15" font-size="10.5" font-weight="normal" fill="#111111">5</text>
<text x="38.8" y="286.8" font-size="10.5" text-anchor="end" font-weight="normal" font-style="normal" fill="#111111">2</text>
<text x="45.8" y="407.9" font-size="10.5" text-anchor="middle" font-weight="normal" font-style="normal" fill="#111111">-8</text>
<text x="87.19" y="407.9" font-size="10.5" text-anchor="middle" font-weight="normal" font-style="normal" fill="#111111">-6</text>
<text x="128.57" y="407.9" font-size="10.5" text-anchor="middle" font-weight="normal" font-style="normal" fill="#111111">-4</text>
<text x="169.96" y="407.9" font-size="10.5" text-anchor="middle" font-weight="normal" font-style="normal" fill="#111111">-2</text>
<text x="211.35" y="407.9" font-size="10.5" text-anchor="middle" font-weight="normal" font-style="normal" fill="#111111">0</text>
<text x="252.74" y="407.9" font-size="10.5" text-anchor="middle" font-weight="normal" font-style="normal" fill="#111111">2</text>
<text x="294.12" y="407.9" font-size="10.5" text-anchor="middle" font-weight="normal" font-style="normal" fill="#111111">4</text>
<text x="335.51" y="407.9" font-size="10.5" text-anchor="middle" font-weight="normal" font-style="normal" fill="#111111">6</text>
<text x="376.9" y="407.9" font-size="10.5" text-anchor="middle" font-weight="normal" font-style="normal" fill="#111111">8</text>
<path d="M45.80 387.11 L86.01 386.90 L114.39 386.56 L125.50 386.33 L134.96 386.06 L143.24 385.72 L150.33 385.31 L156.72 384.81 L162.16 384.24 L166.89 383.56 L171.14 382.76 L174.93 381.82 L178.48 380.65 L181.55 379.34 L184.15 377.92 L185.57 376.98 L186.75 376.10 L187.94 375.11 L189.12 373.99 L190.30 372.72 L191.25 371.58 L192.19 370.31 L193.14 368.90 L194.79 366.01 L196.45 362.46 L197.87 358.77 L199.29 354.33 L200.23 350.86 L201.18 346.92 L202.13 342.46 L203.07 337.39 L204.25 330.14 L205.20 323.57 L206.15 316.37 L208.28 299.10 L209.22 292.24 L209.93 288.19 L210.40 286.25 L210.88 285.05 L211.11 284.74 L211.35 284.63 L211.59 284.74 L211.82 285.05 L212.30 286.25 L212.77 288.19 L213.48 292.24 L214.42 299.10 L216.55 316.37 L217.50 323.57 L218.44 330.14 L219.63 337.39 L220.57 342.46 L221.52 346.92 L222.47 350.86 L223.41 354.33 L224.83 358.77 L226.25 362.46 L227.91 366.01 L229.56 368.90 L230.51 370.31 L231.45 371.58 L232.40 372.72 L233.58 373.99 L234.76 375.11 L235.95 376.10 L237.13 376.98 L238.55 377.92 L241.15 379.34 L244.22 380.65 L247.77 381.82 L251.56 382.76 L255.81 383.56 L260.54 384.24 L265.98 384.81 L272.37 385.31 L279.46 385.72 L287.74 386.06 L297.20 386.33 L308.31 386.56 L336.69 386.90 L376.90 387.11" fill="none" stroke="#3346a3" stroke-width="1.5" stroke-linejoin="round" stroke-linecap="round"/>
<path d="M45.80 387.12 L84.35 386.84 L97.12 386.62 L107.05 386.34 L114.86 385.97 L121.01 385.49 L125.74 384.87 L127.87 384.48 L129.76 384.03 L131.41 383.54 L132.83 383.02 L134.25 382.39 L135.43 381.73 L136.62 380.94 L137.80 379.97 L138.74 379.03 L139.69 377.91 L140.64 376.59 L141.35 375.43 L142.76 372.65 L143.95 369.83 L146.31 363.47 L147.26 361.33 L147.73 360.53 L148.20 359.97 L148.68 359.69 L148.91 359.66 L149.39 359.83 L149.86 360.27 L150.33 360.96 L150.81 361.87 L151.52 363.51 L154.12 370.19 L155.06 372.28 L156.01 374.07 L156.72 375.22 L157.66 376.53 L158.61 377.61 L159.56 378.50 L160.98 379.53 L162.39 380.29 L164.05 380.91 L165.71 381.31 L167.60 381.56 L169.73 381.62 L171.85 381.48 L173.75 381.20 L175.40 380.81 L176.82 380.37 L178.24 379.82 L179.42 379.25 L180.60 378.58 L181.79 377.79 L182.97 376.86 L184.15 375.76 L185.10 374.75 L186.04 373.61 L186.99 372.32 L187.94 370.90 L189.59 368.07 L192.67 362.26 L194.09 359.98 L194.79 359.11 L195.50 358.50 L196.21 358.18 L196.69 358.13 L197.16 358.22 L197.87 358.59 L198.34 358.98 L199.05 359.76 L200.23 361.43 L202.60 365.24 L203.78 367.03 L204.96 368.58 L206.15 369.88 L207.33 370.90 L208.04 371.38 L208.75 371.76 L209.93 372.20 L210.64 372.33 L211.35 372.38 L212.06 372.33 L212.77 372.20 L213.95 371.76 L215.13 371.07 L216.32 370.11 L217.50 368.87 L218.92 367.03 L220.10 365.24 L222.70 361.07 L223.88 359.48 L224.59 358.77 L225.30 358.31 L226.01 358.13 L226.72 358.25 L227.20 358.50 L227.67 358.88 L228.14 359.37 L228.85 360.31 L230.03 362.26 L233.11 368.07 L234.76 370.90 L235.71 372.32 L236.66 373.61 L237.60 374.75 L238.55 375.76 L239.73 376.86 L240.91 377.79 L242.09 378.58 L243.51 379.37 L244.93 380.02 L246.35 380.53 L248.01 380.99 L249.66 381.32 L251.79 381.57 L253.68 381.63 L255.58 381.52 L257.47 381.22 L259.12 380.76 L260.78 380.07 L262.20 379.22 L263.38 378.29 L264.33 377.36 L265.27 376.23 L266.22 374.86 L266.93 373.65 L267.64 372.28 L268.58 370.19 L271.18 363.51 L271.89 361.87 L272.37 360.96 L272.84 360.27 L273.31 359.83 L273.79 359.66 L274.02 359.69 L274.50 359.97 L274.97 360.53 L275.44 361.33 L276.39 363.47 L278.75 369.83 L279.94 372.65 L281.35 375.43 L282.06 376.59 L283.01 377.91 L283.96 379.03 L284.90 379.97 L286.08 380.94 L287.27 381.73 L288.45 382.39 L289.87 383.02 L291.29 383.54 L292.94 384.03 L294.83 384.48 L296.96 384.87 L301.69 385.49 L307.84 385.97 L315.65 386.34 L325.58 386.62 L338.35 386.84 L376.90 387.12" fill="none" stroke="#d4232b" stroke-width="1.5" stroke-linejoin="round" stroke-linecap="round"/>
<path d="M45.80 386.41 L52.19 386.13 L57.62 385.78 L62.12 385.36 L65.90 384.86 L69.21 384.24 L72.05 383.50 L74.65 382.56 L76.78 381.54 L78.44 380.51 L80.09 379.22 L81.51 377.85 L82.93 376.17 L84.35 374.13 L85.53 372.14 L86.71 369.90 L89.32 364.58 L90.50 362.50 L91.21 361.55 L91.68 361.08 L92.39 360.68 L92.86 360.62 L93.34 360.73 L94.05 361.22 L94.52 361.73 L95.23 362.74 L96.17 364.41 L98.78 369.68 L100.19 372.33 L101.61 374.61 L103.27 376.79 L104.93 378.52 L105.87 379.33 L106.82 380.05 L107.76 380.67 L108.95 381.33 L111.07 382.29 L112.73 382.87 L114.39 383.33 L116.28 383.75 L118.41 384.12 L120.77 384.43 L123.14 384.66 L128.57 384.95 L134.96 385.00 L141.11 384.77 L146.55 384.29 L148.91 383.96 L151.28 383.54 L153.17 383.11 L155.06 382.58 L156.72 382.01 L158.37 381.31 L159.79 380.59 L161.21 379.73 L162.63 378.68 L163.81 377.66 L165.00 376.46 L165.94 375.36 L166.89 374.13 L167.83 372.75 L169.49 370.02 L172.80 363.93 L173.98 362.09 L174.69 361.23 L175.17 360.80 L175.88 360.39 L176.35 360.28 L176.82 360.32 L177.53 360.64 L178.24 361.26 L178.95 362.12 L180.13 363.97 L183.21 369.59 L184.86 372.34 L185.81 373.73 L186.75 374.97 L187.70 376.08 L188.88 377.29 L189.83 378.12 L191.01 379.03 L192.19 379.81 L193.61 380.59 L195.03 381.23 L196.45 381.77 L198.11 382.28 L199.76 382.68 L203.31 383.30 L207.33 383.67 L211.59 383.79 L215.84 383.64 L219.63 383.27 L223.17 382.63 L224.83 382.21 L226.25 381.77 L227.67 381.23 L228.85 380.70 L230.74 379.66 L232.40 378.50 L234.05 377.06 L235.47 375.54 L236.89 373.73 L238.31 371.60 L239.73 369.17 L242.57 363.97 L243.75 362.12 L244.46 361.26 L245.17 360.64 L245.88 360.32 L246.35 360.28 L246.82 360.39 L247.53 360.80 L248.24 361.49 L248.95 362.42 L250.14 364.35 L252.74 369.17 L253.92 371.24 L255.34 373.46 L256.76 375.36 L258.18 376.96 L259.60 378.29 L261.01 379.40 L262.67 380.46 L264.80 381.53 L267.16 382.43 L270.00 383.23 L273.08 383.85 L276.62 384.34 L280.64 384.71 L285.14 384.93 L289.63 385.01 L294.12 384.95 L298.15 384.76 L301.93 384.43 L305.24 383.97 L308.08 383.39 L310.68 382.63 L312.81 381.79 L314.94 380.67 L316.36 379.70 L317.77 378.52 L319.19 377.06 L320.38 375.60 L321.56 373.89 L322.98 371.48 L326.29 364.87 L327.47 362.74 L328.18 361.73 L328.89 361.02 L329.60 360.66 L330.07 360.63 L330.55 360.77 L331.26 361.30 L331.73 361.83 L332.44 362.87 L333.38 364.58 L335.99 369.90 L337.17 372.14 L338.35 374.13 L339.77 376.17 L341.19 377.85 L342.61 379.22 L344.26 380.51 L345.92 381.54 L348.05 382.56 L350.65 383.50 L353.49 384.24 L356.80 384.86 L360.58 385.36 L365.07 385.78 L370.51 386.13 L376.90 386.41" fill="none" stroke="#76b947" stroke-width="1.5" stroke-linejoin="round" stroke-linecap="round"/>
<text x="51.2" y="297.2" font-size="10.8" text-anchor="start" font-weight="bold" font-style="normal" fill="#111111" style="stroke-width:0.4px">(d)</text>
<text x="87" y="320.4" font-size="10" text-anchor="start" font-weight="bold" font-style="normal" fill="#111111">B</text>
<text x="93.1" y="325.3" font-size="8.2" text-anchor="start" font-weight="bold" font-style="normal" fill="#111111">y</text>
<text x="98.3" y="320.9" font-size="10" text-anchor="start" font-weight="bold" font-style="normal" fill="#111111">=0.27t</text>
<text transform="translate(15 358.77) rotate(-90)" font-size="11.6" fill="#111111">G</text>
<text transform="translate(15 346.36) rotate(-90)" font-size="11.6" fill="#111111">(</text>
<text transform="translate(15 342.77) rotate(-90)" font-size="11.6" fill="#111111">2</text>
<text transform="translate(15 336.51) rotate(-90)" font-size="11.6" fill="#111111">e</text>
<text transform="translate(9.3 330.75) rotate(-90)" font-size="9" fill="#111111">2</text>
<text transform="translate(15 325.31) rotate(-90)" font-size="11.6" fill="#111111">/</text>
<text transform="translate(15 322.45) rotate(-90)" font-size="11.6" fill="#111111">h</text>
<text transform="translate(15 315.86) rotate(-90)" font-size="11.6" fill="#111111">)</text>
<text x="201.6" y="423.6" font-size="11" text-anchor="start" font-weight="normal" font-style="normal" fill="#111111">V</text>
<text x="209.4" y="429.6" font-size="8.6" text-anchor="start" font-weight="normal" font-style="normal" fill="#111111">b</text>
<text x="213.3" y="423.6" font-size="11" text-anchor="start" font-weight="normal" font-style="normal" fill="#111111">/t</text>
<text x="349.2" y="423.6" font-size="11" font-weight="normal" fill="#111111">×</text>
<path d="M0.375 0L0.375 0.716L0.300 0.716C0.280 0.650 0.200 0.590 0.105 0.560L0.105 0.480C0.190 0.505 0.245 0.540 0.275 0.575L0.275 0Z" transform="translate(355.62 423.6) scale(11 -11)" fill="#111111" stroke="#111111" stroke-width="0.0273"/>
<text x="361.74" y="423.6" font-size="11" font-weight="normal" fill="#111111">0</text>
<text x="367.6" y="418.6" font-size="9" text-anchor="start" font-weight="normal" font-style="normal" fill="#111111">-3</text>
</svg>
</body></html>
